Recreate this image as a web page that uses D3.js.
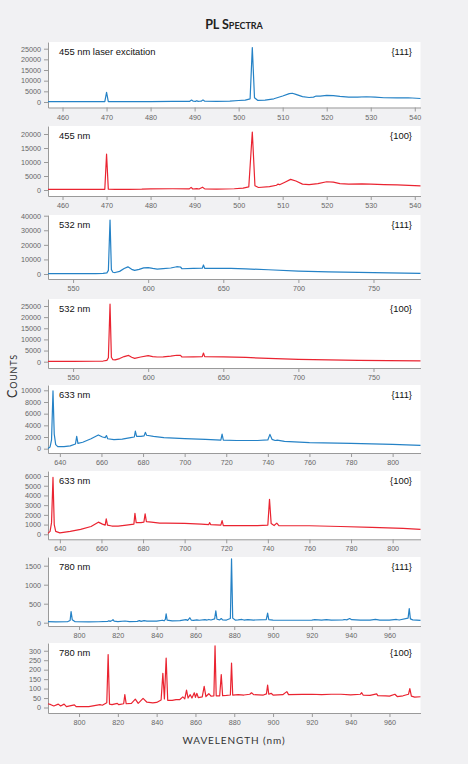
<!DOCTYPE html>
<html>
<head>
<meta charset="utf-8">
<script src="https://cdn.jsdelivr.net/npm/d3@7"></script>
<style>
	body { margin: 0; background: #f1f1f3; }
	svg { display: block; }
	.tick text { font-family: "Liberation Sans", Arial, sans-serif; font-size: 7.2px; fill: #666; }
	.tick line, .domain { stroke: #9a9a9a; }
	.lbl { font-family: "Liberation Sans", Arial, sans-serif; font-size: 9.4px; fill: #111; }
</style>
</head>
<body>
<div class="pl-chart"></div>
<script>

// panel texts
var laserLabels = ["455 nm laser excitation", "455 nm", "532 nm", "532 nm", "633 nm", "633 nm", "780 nm", "780 nm"];
var faceLabels = ["{111}", "{100}", "{111}", "{100}", "{111}", "{100}", "{111}", "{100}"];

// axis extents and tick values
var xDomains = [[456.7, 541.3], [456.7, 541.3], [533.3, 781.3], [533.3, 781.3], [634.3, 813.4], [634.3, 813.4], [784, 976], [784, 976]];
var yDomains = [[-2580, 28140], [-2140, 22860], [-3430, 40480], [-2830, 28140], [-740, 10910], [-515, 6515], [-87, 1729], [-29, 341]];

var xTicks455 = [460, 470, 480, 490, 500, 510, 520, 530, 540];
var xTicks532 = [550, 600, 650, 700, 750];
var xTicks633 = [640, 660, 680, 700, 720, 740, 760, 780, 800];
var xTicks780 = [800, 820, 840, 860, 880, 900, 920, 940, 960];

var yTicks = [
	[0, 5000, 10000, 15000, 20000, 25000],
	[0, 5000, 10000, 15000, 20000],
	[0, 10000, 20000, 30000, 40000],
	[0, 5000, 10000, 15000, 20000, 25000],
	[0, 2000, 4000, 6000, 8000, 10000],
	[0, 1000, 2000, 3000, 4000, 5000, 6000],
	[0, 500, 1000, 1500],
	[0, 50, 100, 150, 200, 250, 300]
];

// spectra: [wavelength nm, counts]
var pl455_111 = [[456.7,150],[460,150],[465,150],[469.6,170],[470,4500],[470.4,200],[475,150],[480,180],[485,250],[488.9,300],[489.3,900],[489.7,350],[490.2,300],[490.5,600],[490.8,300],[491.2,350],[491.5,400],[491.9,1000],[492.3,350],[495,300],[498,400],[500,700],[501.5,900],[502.6,1500],[503.1,25500],[503.6,2000],[504.3,800],[506,900],[508,1500],[510,2800],[511.5,3900],[512.2,4100],[513,3600],[514.5,2500],[516,2100],[517,2300],[517.6,2800],[518.5,2800],[520,3100],[521.5,3000],[523,2600],[525,2300],[527,2300],[529,2450],[531,2250],[533,2000],[536,1950],[538.5,2000],[541.3,1650]];

var pl455_100 = [[456.7,200],[460,200],[465,200],[469.6,250],[470,12800],[470.4,300],[472,200],[475,250],[478,300],[480,420],[485,450],[488.8,400],[489.2,950],[489.6,350],[490.5,500],[491,350],[491.8,1000],[492.3,400],[495,350],[499,450],[501,700],[502.3,1100],[503.1,20700],[503.7,1500],[504.5,900],[507,1200],[508.6,1700],[508.9,2100],[509.3,1900],[510.5,2800],[511.8,3800],[513,3200],[514.5,2100],[516,1900],[518,2300],[520,2950],[521.5,2800],[523,2300],[525,2100],[528,2200],[530,2100],[533,1900],[536,1800],[541.3,1500]];

var pl532_111 = [[533.3,200],[550,200],[565,250],[570,400],[572.5,800],[573.5,2500],[574.6,37000],[575.5,3000],[576.5,1200],[578,1000],[581,1800],[584,3800],[586.5,4900],[589,3200],[591,2500],[594,3200],[597,4200],[600,4400],[603,3800],[606,3400],[610,3700],[615,4100],[619,5000],[621.5,4800],[622.5,3600],[630,3800],[636,4000],[636.8,6200],[637.6,3900],[645,3900],[655,3800],[665,3500],[680,2900],[700,2000],[720,1500],[740,1100],[760,800],[781.3,450]];

var pl532_100 = [[533.3,150],[550,150],[565,200],[570,300],[572.5,600],[573.5,1800],[574.6,25800],[575.5,2000],[576.5,900],[578,800],[581,1400],[584,2300],[587,2800],[589,2000],[591,1500],[595,2100],[600,2700],[603,2300],[606,2100],[610,2200],[615,2500],[619,2900],[621.5,2800],[622.5,2100],[630,2200],[636,2300],[636.8,3900],[637.6,2300],[650,2200],[665,1900],[680,1500],[700,1050],[720,800],[740,600],[760,450],[781.3,350]];

var pl633_111 = [[634.3,50],[635.3,300],[636,1500],[636.7,9900],[637.3,2500],[638,700],[639,350],[642,350],[645,480],[647.5,800],[648.1,2100],[648.7,900],[651,1100],[655,1700],[658.5,2350],[660.5,2000],[661.8,1900],[662.4,2250],[663,1700],[666,1550],[670,1650],[674,1900],[675.8,2000],[676.3,3000],[676.9,2100],[679,2100],[680.5,2200],[681.1,2800],[681.7,2300],[685,2100],[690,1900],[700,1720],[710,1600],[717.4,1450],[718,2500],[718.6,1450],[725,1400],[735,1400],[740,1500],[741,2450],[742,1600],[743.5,1400],[744.5,1450],[748,1250],[760,1050],[780,900],[800,740],[813.4,580]];

var pl633_100 = [[634.3,100],[635.3,300],[636,1200],[636.7,5850],[637.3,1000],[638,300],[640,150],[645,300],[650,500],[655,800],[658.5,1250],[660.5,1050],[661.8,950],[662.3,1600],[662.9,950],[665,850],[668,850],[672,950],[675.6,1050],[676.1,2150],[676.7,1200],[679,1200],[680.4,1250],[681,2100],[681.6,1300],[684,1250],[688,1150],[691,1150],[700,1120],[708,1050],[711.6,1000],[712,1200],[712.5,1000],[717.4,950],[718,1400],[718.6,900],[725,900],[735,900],[740,950],[740.8,3600],[741.6,1100],[743,900],[744.3,1150],[745.3,900],[760,880],[775,800],[790,720],[805,600],[813.4,510]];

var pl780_111 = [[784,30],[788,20],[794,25],[795.4,60],[795.9,290],[796.5,80],[798,25],[805,20],[810,25],[814.8,35],[815.4,50],[816,35],[817,60],[817.5,80],[818.1,40],[820,30],[823.7,45],[826,30],[830,35],[831.1,55],[832,35],[833.5,55],[835,40],[840,40],[843,65],[843.8,50],[844.5,90],[844.9,230],[845.4,70],[848,50],[852,55],[855.1,80],[856,60],[857.1,130],[857.8,70],[859,60],[860.7,75],[862,65],[864.9,80],[866,70],[866.9,85],[868,70],[869.9,100],[870.5,310],[871.1,90],[872.5,75],[873.3,110],[874,75],[876,70],[878,110],[878.6,1680],[879.2,120],[880.5,70],[882,75],[884,85],[885,70],[887,80],[890,70],[896.5,80],[897.2,250],[897.8,80],[900,70],[905,65],[910,65],[915,65],[920,70],[921.5,80],[925,70],[927.5,80],[930,70],[936,75],[937,85],[938,75],[939.5,110],[940.5,80],[945,70],[950,70],[952.8,85],[955,70],[960,70],[963.6,85],[965,70],[969.6,120],[970.2,370],[970.8,100],[972,75],[976,60]];

var pl780_100 = [[784,20],[785.5,15],[787,8],[789.3,18],[790.5,8],[792.3,18],[793.5,5],[797.6,14],[798.5,5],[805,5],[810.8,15],[812,12],[814.3,25],[815,280],[815.7,18],[817,15],[819.7,22],[820.5,15],[823,20],[823.6,68],[824.3,20],[827,22],[829,44],[830.5,22],[833,48],[835,28],[838,25],[840,27],[842.3,40],[843.2,181],[844,45],[844.9,261],[845.7,38],[848,38],[850,42],[852,42],[853.5,56],[854.5,46],[855.4,92],[856.2,50],[857.3,68],[858.2,50],[859.4,78],[860,54],[860.7,75],[861.5,52],[863.5,56],[864.5,112],[865.4,58],[866.9,73],[868,60],[869.5,62],[870.1,326],[870.7,62],[872.5,62],[873.3,174],[874,63],[876,64],[878,66],[878.6,235],[879.2,66],[882,68],[885,66],[888,70],[888.9,78],[890,68],[895,66],[896.6,72],[897.2,118],[897.8,70],[899,75],[900,66],[905,68],[907.1,84],[908,68],[915,69],[920,70],[925,68],[930,70],[935,70],[940,67],[945,70],[945.7,78],[946.5,65],[950,64],[953.4,72],[954,63],[958,62],[960,60],[962.8,70],[964,58],[967,62],[969.8,70],[970.5,100],[971.3,60],[973,55],[976,57]];

var spectra = [pl455_111, pl455_100, pl532_111, pl532_100, pl633_111, pl633_100, pl780_111, pl780_100];
var xTicks = [xTicks455, xTicks455, xTicks532, xTicks532, xTicks633, xTicks633, xTicks780, xTicks780];


var W = 468, H = 764;
var left = 48, right = 420.5;
var tops = [42, 126, 215, 299, 385, 471, 557, 643],
	bottoms = [107.5, 196, 279, 368, 453, 539.3, 626, 713];
var colors = { "{111}": "#2582c6", "{100}": "#ea2431" };

var svg = d3.select(".pl-chart").append("svg")
	.attr("width", W)
	.attr("height", H);

svg.append("text")
	.attr("x", 234)
	.attr("y", 29)
	.attr("text-anchor", "middle")
	.style("font-family", "Lato, 'Open Sans', sans-serif")
	.style("font-weight", "bold")
	.style("font-variant", "small-caps")
	.style("font-size", "12.5px")
	.style("fill", "#222")
	.text("PL Spectra");

spectra.forEach(function (data, i) {

	var x = d3.scaleLinear().domain(xDomains[i]).range([left, right]),
		y = d3.scaleLinear().domain(yDomains[i]).range([bottoms[i], tops[i]]);

	var g = svg.append("g").attr("class", "panel");

	g.append("rect")
		.attr("x", left)
		.attr("y", tops[i])
		.attr("width", right - left)
		.attr("height", bottoms[i] - tops[i])
		.attr("fill", "#fff");

	g.append("g")
		.attr("transform", "translate(0," + bottoms[i] + ")")
		.call(d3.axisBottom(x).tickValues(xTicks[i]).tickSize(4).tickSizeOuter(0).tickPadding(3).tickFormat(d3.format("d")));

	g.append("g")
		.attr("transform", "translate(" + left + ",0)")
		.call(d3.axisLeft(y).tickValues(yTicks[i]).tickSize(4).tickSizeOuter(0).tickPadding(3).tickFormat(d3.format("d")));

	var line = d3.line()
		.x(function (d) { return x(d[0]); })
		.y(function (d) { return y(d[1]); });

	g.append("path")
		.datum(data)
		.attr("d", line)
		.attr("fill", "none")
		.attr("stroke", colors[faceLabels[i]])
		.attr("stroke-width", 1.2)
		.attr("stroke-linejoin", "round");

	g.append("text")
		.attr("class", "lbl")
		.attr("x", 59)
		.attr("y", tops[i] + 13)
		.text(laserLabels[i]);

	g.append("text")
		.attr("class", "lbl")
		.attr("x", 412)
		.attr("y", tops[i] + 13)
		.attr("text-anchor", "end")
		.text(faceLabels[i]);
});

svg.append("text")
	.attr("transform", "translate(17,376) rotate(-90)")
	.attr("text-anchor", "middle")
	.style("font-family", "Lato, 'Open Sans', sans-serif")
	.style("font-variant", "small-caps")
	.style("font-size", "12.5px")
	.style("letter-spacing", "0.8px")
	.style("fill", "#333")
	.text("Counts");

svg.append("text")
	.attr("x", 234)
	.attr("y", 744)
	.attr("text-anchor", "middle")
	.style("font-family", "Lato, 'Open Sans', sans-serif")
	.style("font-size", "10px")
	.style("letter-spacing", "0.9px")
	.style("fill", "#333")
	.text("WAVELENGTH (nm)");

</script>
</body>
</html>
